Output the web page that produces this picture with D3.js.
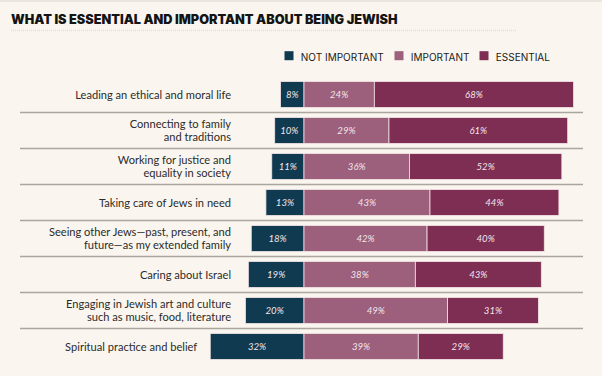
<!DOCTYPE html>
<html>
<head>
<meta charset="utf-8">
<script src="https://cdn.jsdelivr.net/npm/d3@7"></script>
<style>
  body { margin: 0; background: #faf6ef; }
  svg { display: block; }
</style>
</head>
<body>
<div id="chart"></div>
<script>
// data
var categories = [
  ["Leading an ethical and moral life"],
  ["Connecting to family", "and traditions"],
  ["Working for justice and", "equality in society"],
  ["Taking care of Jews in need"],
  ["Seeing other Jews\u2014past, present, and", "future\u2014as my extended family"],
  ["Caring about Israel"],
  ["Engaging in Jewish art and culture", "such as music, food, literature"],
  ["Spiritual practice and belief"]
];
var notImportant = [8, 10, 11, 13, 18, 19, 20, 32];
var important    = [24, 29, 36, 43, 42, 38, 49, 39];
var essential    = [68, 61, 52, 44, 40, 43, 31, 29];
var seriesNames  = ["NOT IMPORTANT", "IMPORTANT", "ESSENTIAL"];
var colors       = ["#0f3a50", "#9c5f7c", "#7e2d53"];

var width = 602, height = 376;

var svg = d3.select("#chart")
  .append("svg")
  .attr("width", width)
  .attr("height", height);

svg.append("rect")
  .attr("width", width).attr("height", height)
  .attr("fill", "#faf6ef");

// faint top edge
svg.append("line")
  .attr("x1", 0).attr("x2", width)
  .attr("y1", 1).attr("y2", 1)
  .attr("stroke", "#ebe6de").attr("stroke-width", 2);

// title
svg.append("text")
  .attr("x", 11)
  .attr("y", 24)
  .style("font-family", "Inter, sans-serif")
  .style("font-weight", 900)
  .style("font-size", "12.7px")
  .style("fill", "#141414")
  .text("WHAT IS ESSENTIAL AND IMPORTANT ABOUT BEING JEWISH");

svg.append("line")
  .attr("x1", 11).attr("x2", 516)
  .attr("y1", 30.5).attr("y2", 30.5)
  .attr("stroke", "#e4dfd0")
  .attr("stroke-width", 1.5)
  .attr("stroke-dasharray", "1,1");

// legend
var legendX = [284.5, 394.5, 479.5];
var legend = svg.append("g");
seriesNames.forEach(function(name, i) {
  legend.append("rect")
    .attr("x", legendX[i]).attr("y", 51.2)
    .attr("width", 9).attr("height", 9)
    .attr("fill", colors[i]);
  legend.append("text")
    .attr("x", legendX[i] + 16.3)
    .attr("y", 61)
    .style("font-family", "Inter, sans-serif")
    .style("font-size", "10px")
    .style("fill", "#1a1a1a")
    .text(name);
});

// scales
var x = d3.scaleLinear()
  .domain([-40, 100])
  .range([304 - 40 * 2.93, 304 + 100 * 2.93]);

var y = d3.scaleBand()
  .domain(d3.range(categories.length))
  .range([76.5, 364.5])
  .paddingInner(0.28)
  .paddingOuter(0.14);

var rowStep = y.step();

// separator lines between rows
svg.append("g")
  .selectAll("line")
  .data(d3.range(1, categories.length))
  .enter()
  .append("line")
    .attr("x1", 20)
    .attr("x2", 583)
    .attr("y1", function(i) { return y(i) - (rowStep - y.bandwidth()) / 2; })
    .attr("y2", function(i) { return y(i) - (rowStep - y.bandwidth()) / 2; })
    .attr("stroke", "#aaa69e")
    .attr("stroke-width", 1.3);

// segments
var rows = categories.map(function(c, i) {
  return [
    { k: 0, x0: -notImportant[i], x1: 0, v: notImportant[i] },
    { k: 1, x0: 0, x1: important[i], v: important[i] },
    { k: 2, x0: important[i], x1: important[i] + essential[i], v: essential[i] }
  ].map(function(s) { s.row = i; return s; });
});
var segs = [].concat.apply([], rows);

svg.append("g")
  .selectAll("rect")
  .data(segs)
  .enter()
  .append("rect")
    .attr("x", function(d) { return x(d.x0); })
    .attr("y", function(d) { return y(d.row); })
    .attr("width", function(d) { return x(d.x1) - x(d.x0); })
    .attr("height", y.bandwidth())
    .attr("fill", function(d) { return colors[d.k]; })
    .attr("stroke", "#f3e4e6")
    .attr("stroke-width", 0.8);

svg.append("g")
  .selectAll("text")
  .data(segs)
  .enter()
  .append("text")
    .attr("x", function(d) { return (x(d.x0) + x(d.x1)) / 2; })
    .attr("y", function(d) { return y(d.row) + y.bandwidth() / 2 + 3.5; })
    .attr("text-anchor", "middle")
    .style("font-family", "Lato, sans-serif")
    .style("font-style", "italic")
    .style("font-size", "9.6px")
    .style("fill", "#f2e6ec")
    .text(function(d) { return d.v + "%"; });

// category labels, pushed left when the bar reaches past them
var labels = svg.append("g")
  .selectAll("text")
  .data(categories)
  .enter()
  .append("text")
    .attr("text-anchor", "end")
    .attr("transform", function(d, i) {
      var lx = Math.min(231, x(-notImportant[i]) - 13);
      return "translate(" + lx + "," + (y(i) + y.bandwidth() / 2) + ")";
    })
    .style("font-family", "Lato, sans-serif")
    .style("font-size", "11.1px")
    .style("fill", "#2b2b2b");

labels.each(function(lines) {
  var t = d3.select(this);
  var lh = 12.7;
  var start = -(lines.length - 1) * lh / 2 + 4;
  lines.forEach(function(l, j) {
    t.append("tspan")
      .attr("x", 0)
      .attr("y", start + j * lh)
      .text(l);
  });
});
</script>
</body>
</html>
